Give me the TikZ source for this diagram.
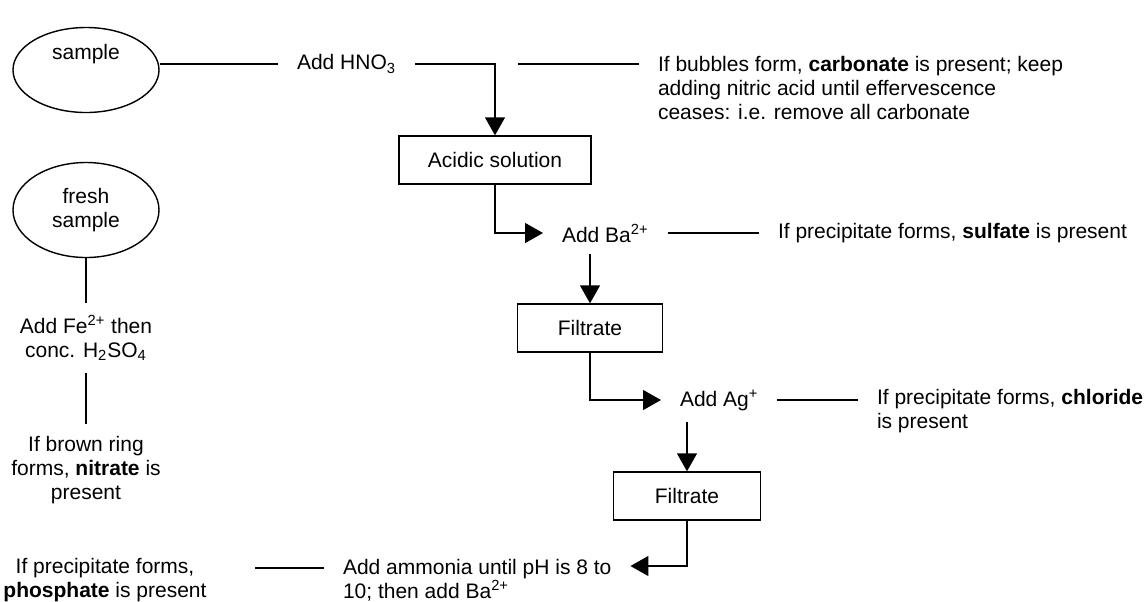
\documentclass[tikz,border=0pt]{standalone}
\usepackage{fontspec}
\setmainfont{Liberation Sans}
\usepackage{tikz}
\usetikzlibrary{arrows.meta, positioning, shapes.geometric, calc}

\begin{document}
\begin{tikzpicture}[
  x=0.5pt, y=-0.5pt,
  font=\fontsize{10.5pt}{12pt}\selectfont,
  sample/.style={ellipse, draw, line width=0.7pt, minimum width=73pt, align=center, inner sep=0pt},
  stage/.style={draw, line width=0.7pt, minimum height=24pt, align=center},
  reagent/.style={inner sep=0pt, outer xsep=9.5pt, outer ysep=6pt, align=center},
  result/.style={reagent, align=left},
  link/.style={line width=0.7pt},
  edge/.style={link, -{Triangle[length=9pt, width=10pt]}}
]
\useasboundingbox (0,0) rectangle (1146,601);

% main branch
\node[sample, minimum height=42.5pt] (smp) at (86,70) {sample\\[6pt]\mbox{}};
\node[reagent, anchor=west] (hno) at (278,64) {Add HNO\textsubscript{3}};
\node[result, anchor=west] (co3) at (639,88) {If bubbles form, \textbf{carbonate} is present; keep\\adding nitric acid until effervescence\\ceases: i.e. remove all carbonate};
\node[stage, minimum width=96pt] (acid) at (495,160) {Acidic solution};

\node[reagent, anchor=west] (ba) at (543,233) {Add Ba\textsuperscript{2+}};
\node[result, anchor=west] (so4) at (759,233) {If precipitate forms, \textbf{sulfate} is present};
\node[stage, minimum width=72.5pt] (filt1) at (590,328) {Filtrate};

\node[reagent, anchor=west] (ag) at (661,400) {Add Ag\textsuperscript{+}};
\node[result, anchor=west] (cl) at (858,411) {If precipitate forms, \textbf{chloride}\\is present};
\node[stage, minimum width=73.5pt] (filt2) at (687,496) {Filtrate};

\node[result, anchor=west] (nh3) at (324,580) {Add ammonia until pH is 8 to\\10; then add Ba\textsuperscript{2+}};
\node[reagent] (po4) at (105,580) {If precipitate forms,\\\textbf{phosphate} is present};
\coordinate (pl) at (255,568);

\draw[link] (smp.east |- hno.west) -- (hno.west);
\draw[edge] (hno.east) -| (acid.north);
\draw[link] ($(hno.east -| acid.north)+(23,0)$) -- (co3.west |- hno.east);
\draw[edge] (acid.south) |- (ba.west);
\draw[link] (ba.east) -- (so4.west);
\draw[edge] (filt1.north |- ba.south) -- (filt1.north);
\draw[edge] (filt1.south) |- (ag.west);
\draw[link] (ag.east) -- (cl.west |- ag.east);
\draw[edge] (filt2.north |- ag.south) -- (filt2.north);
\draw[edge] (filt2.south) |- ([yshift=7pt]nh3.east);
\draw[link] (pl) -- (nh3.west |- pl);

% nitrate test
\node[sample, minimum height=47.5pt] (fresh) at (86,210) {fresh\\sample};
\node[reagent] (fe) at (86,338) {Add Fe\textsuperscript{2+} then\\conc. H\textsubscript{2}SO\textsubscript{4}};
\node[reagent] (no3) at (86,470) {If brown ring\\forms, \textbf{nitrate} is\\present};
\draw[link] (fresh) -- (fe);
\draw[link] (fe) -- (no3);
\end{tikzpicture}
\end{document}
